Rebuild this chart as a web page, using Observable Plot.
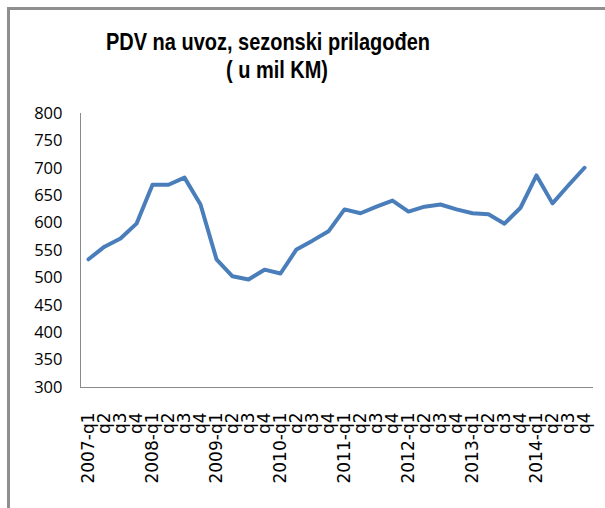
<!DOCTYPE html>
<html><head><meta charset="utf-8">
<script src="https://cdn.jsdelivr.net/npm/d3@7"></script>
<script src="https://cdn.jsdelivr.net/npm/@observablehq/plot@0.6"></script>
<style>
body{margin:0;background:#fff}
#wrap{position:relative;width:605px;height:508px;overflow:hidden;background:#fff}
#frame{position:absolute;left:7px;top:7px;width:700px;height:700px;border:3px solid #8f8f8f;box-sizing:border-box}
#plot{position:absolute;left:0;top:0}
</style></head>
<body><div id="wrap"><div id="frame"></div><div id="plot"></div></div>
<script>
const titleLines = ["PDV na uvoz, sezonski prilagođen", "( u mil KM)"];
const periods = ["2007-q1","2007-q2","2007-q3","2007-q4","2008-q1","2008-q2","2008-q3","2008-q4",
  "2009-q1","2009-q2","2009-q3","2009-q4","2010-q1","2010-q2","2010-q3","2010-q4",
  "2011-q1","2011-q2","2011-q3","2011-q4","2012-q1","2012-q2","2012-q3","2012-q4",
  "2013-q1","2013-q2","2013-q3","2013-q4","2014-q1","2014-q2","2014-q3","2014-q4"];
const tickLabels = ["2007-q1","q2","q3","q4","2008-q1","q2","q3","q4",
  "2009-q1","q2","q3","q4","2010-q1","q2","q3","q4",
  "2011-q1","q2","q3","q4","2012-q1","q2","q3","q4",
  "2013-q1","q2","q3","q4","2014-q1","q2","q3","q4"];
const values = [534,557,572,599,670,670,683,634,534,503,497,515,508,552,568,585,
  625,618,630,641,621,630,634,625,618,616,599,628,687,636,669,701];
const yTicks = [300,350,400,450,500,550,600,650,700,750,800];

const data = periods.map((p, i) => ({period: p, value: values[i]}));

const chart = Plot.plot({
  width: 605, height: 508,
  marginLeft: 80, marginRight: 13, marginTop: 113, marginBottom: 121,
  style: {background: "transparent", color: "#000"},
  x: {type: "point", domain: periods, padding: 0.5, label: null},
  y: {domain: [300, 800], label: null},
  marks: [
    Plot.axisY({ticks: yTicks, tickSize: 0, tickPadding: 18, fontSize: 16.5, fontFamily: "Open Sans", label: null}),
    Plot.axisX({tickSize: 0, tickRotate: -90, tickPadding: 25, fontSize: 17, fontFamily: "DejaVu Sans",
      tickFormat: d => tickLabels[periods.indexOf(d)], label: null}),
    Plot.frame({anchor: "left", stroke: "#8a8a8a"}),
    Plot.frame({anchor: "bottom", stroke: "#8a8a8a"}),
    Plot.line(data, {x: "period", y: "value", stroke: "#4A7EBB", strokeWidth: 4, strokeLinejoin: "round", strokeLinecap: "round"})
  ]
});
document.getElementById("plot").appendChild(chart);

const svg = d3.select(chart);
const tfont = '"Liberation Sans", Arial, sans-serif';
const t1 = svg.append("text").attr("x", 268).attr("y", 50).attr("text-anchor", "middle")
  .attr("font-family", tfont).attr("font-weight", "bold").attr("font-size", 24).attr("fill", "#000")
  .text(titleLines[0]);
const t2 = svg.append("text").attr("x", 277).attr("y", 78).attr("text-anchor", "middle")
  .attr("font-family", tfont).attr("font-weight", "bold").attr("font-size", 24).attr("fill", "#000")
  .attr("xml:space", "preserve").style("white-space", "pre")
  .text(titleLines[1]);
const w1 = t1.node().getComputedTextLength();
const w2 = t2.node().getComputedTextLength();
const k = 324 / w1;
t1.attr("textLength", w1 * k).attr("lengthAdjust", "spacingAndGlyphs");
t2.attr("textLength", w2 * k).attr("lengthAdjust", "spacingAndGlyphs");
</script></body></html>
